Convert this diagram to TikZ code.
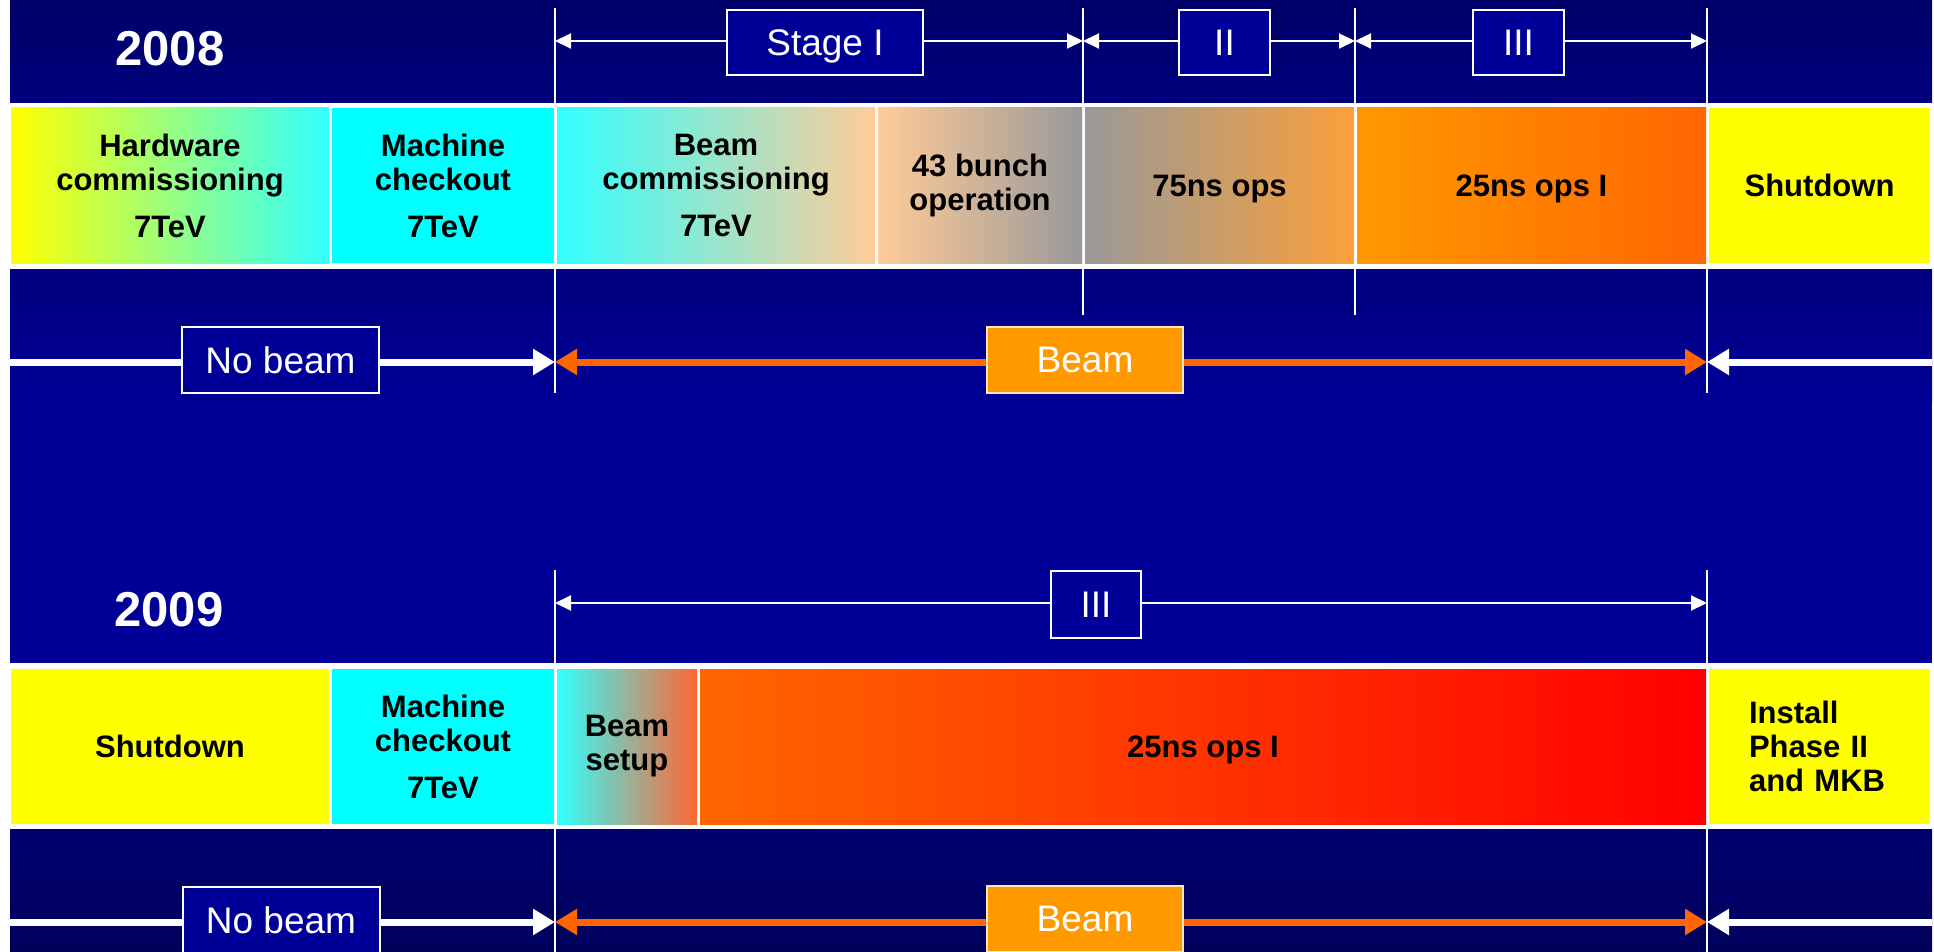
\documentclass[tikz,border=0pt]{standalone}
\usepackage{fontspec}
\setmainfont{Liberation Sans}
\usetikzlibrary{arrows.meta}
\definecolor{bgA}{RGB}{0,0,104}
\definecolor{bgB}{RGB}{0,0,126}
\definecolor{bgC}{RGB}{0,0,128}
\definecolor{bgD}{RGB}{0,0,150}
\definecolor{bgE}{RGB}{0,0,112}
\definecolor{bgF}{RGB}{0,0,92}
\definecolor{boxblue}{RGB}{0,0,153}
\definecolor{boxorange}{RGB}{255,153,0}
\definecolor{boxedge}{RGB}{255,228,190}
\definecolor{beamorange}{RGB}{255,102,0}
\definecolor{cyanA}{RGB}{50,255,255}
\definecolor{cyanB}{RGB}{0,255,255}
\definecolor{yel}{RGB}{255,255,0}
\definecolor{peach}{RGB}{255,204,153}
\definecolor{peachB}{RGB}{238,192,152}
\definecolor{grayA}{RGB}{153,153,153}
\definecolor{midA}{RGB}{205,150,112}
\definecolor{orA}{RGB}{250,160,58}
\definecolor{orB}{RGB}{255,153,0}
\definecolor{orC}{RGB}{255,102,0}
\definecolor{orD}{RGB}{255,84,0}
\definecolor{redA}{RGB}{255,0,0}
\definecolor{setupmid}{RGB}{172,196,186}
\definecolor{setupr}{RGB}{255,102,51}
\begin{document}
\begin{tikzpicture}[x=1pt,y=-1pt,
  cell/.style={inner sep=0pt, minimum height=155pt, font=\fontsize{31}{34}\selectfont\bfseries, text=black, align=center},
  one/.style={text depth=0pt},
  tag/.style={draw=white, line width=2pt, inner sep=0pt, minimum height=66pt, text depth=0pt, font=\fontsize{37}{40}\selectfont, text=white},
  yearlab/.style={font=\fontsize{49}{50}\selectfont\bfseries, text=white, text depth=0pt, inner sep=0pt},
  vline/.style={draw=white, line width=1.5pt},
  thinarr/.style={draw=white, line width=2pt, arrows={Triangle[length=16pt,width=15pt]-Triangle[length=16pt,width=15pt]}},
  thickw/.style={draw=white, line width=7pt, arrows={-Triangle[length=22pt,width=25pt]}},
  thicko/.style={draw=beamorange, line width=7pt, arrows={Triangle[length=22pt,width=25pt]-Triangle[length=22pt,width=25pt]}}
]
% canvas and background
\fill[white] (0,0) rectangle (1934,952);
\useasboundingbox (0,0) rectangle (1934,952);
\shade[top color=bgA, bottom color=bgB] (10,0) rectangle (1932,104);
\fill[white] (10,103) rectangle (1932,270);
\shade[top color=bgC, bottom color=bgD] (10,269) rectangle (1932,401);
\fill[bgD] (10,400) rectangle (1932,664);
\fill[white] (10,663) rectangle (1932,830);
\shade[top color=bgE, bottom color=bgF] (10,829) rectangle (1932,952);

% vertical guide lines
\coordinate (p1t) at (555,8);   \coordinate (p1b) at (555,393);
\coordinate (p2t) at (1083,8);  \coordinate (p2b) at (1083,315);
\coordinate (p3t) at (1355,8);  \coordinate (p3b) at (1355,315);
\coordinate (p4t) at (1707,8);  \coordinate (p4b) at (1707,393);
\coordinate (q1t) at (555,570); \coordinate (q1b) at (555,952);
\coordinate (q4t) at (1707,570);\coordinate (q4b) at (1707,952);
\draw[vline] (p1t) -- (p1b);
\draw[vline] (p2t) -- (p2b);
\draw[vline] (p3t) -- (p3b);
\draw[vline] (p4t) -- (p4b);
\draw[vline] (q1t) -- (q1b);
\draw[vline] (q4t) -- (q4b);

% years
\node[yearlab] (y2008) at (170,48.5) {2008};
\node[yearlab] (y2009) at (169,609) {2009};

% band 2008
\node[cell, left color=yel, right color=cyanA, minimum width=318pt] (hw) at (170,185.5) {Hardware\\commissioning\\[13pt]7TeV};
\node[cell, fill=cyanB, minimum width=222pt] (mc) at (443,185.5) {Machine\\checkout\\[13pt]7TeV};
\node[cell, left color=cyanA, right color=peach, minimum width=318pt] (bc) at (716,185.5) {Beam\\commissioning\\[13pt]7TeV};
\node[cell, left color=peach, middle color=peachB, right color=grayA, minimum width=204pt] (b43) at (980,185.5) {43 bunch\\operation};
\node[cell, one, left color=grayA, middle color=midA, right color=orA, minimum width=269pt] (o75) at (1219.5,185.5) {75ns ops};
\node[cell, one, left color=orB, right color=orC, minimum width=349pt] (o25) at (1531.5,185.5) {25ns ops I};
\node[cell, one, fill=yel, minimum width=221pt] (sd1) at (1819.5,185.5) {Shutdown};

% band 2009
\node[cell, one, fill=yel, minimum width=318pt] (sd2) at (170,746.5) {Shutdown};
\node[cell, fill=cyanB, minimum width=222pt] (mc2) at (443,746.5) {Machine\\checkout\\[13pt]7TeV};
\node[cell, left color=cyanA, middle color=setupmid, right color=setupr, minimum width=140pt] (bs) at (627,746.5) {Beam\\setup};
\node[cell, one, left color=orC, middle color=orD, right color=redA, minimum width=1006pt] (o25b) at (1203,746.5) {25ns ops I};
\node[cell, fill=yel, minimum width=221pt, text width=141pt, inner xsep=40pt, align=left] (inst) at (1819.5,746.5) {Install\\Phase II\\and MKB};

% stage arrows 2008
\coordinate (s0) at (555,41);
\coordinate (s1) at (1083,41);
\coordinate (s2) at (1355,41);
\coordinate (s3) at (1707,41);
\draw[thinarr] (s0) -- (s1);
\draw[thinarr] (s1) -- (s2);
\draw[thinarr] (s2) -- (s3);
\node[tag, fill=boxblue, minimum width=196pt, minimum height=65pt] (stI) at (825,42.5) {Stage I};
\node[tag, fill=boxblue, minimum width=91pt, minimum height=65pt] (stII) at (1224.5,43) {II};
\node[tag, fill=boxblue, minimum width=91pt, minimum height=65pt] (stIII) at (1518.5,43) {III};

% stage arrow 2009
\coordinate (t0) at (555,603);
\coordinate (t1) at (1707,603);
\draw[thinarr] (t0) -- (t1);
\node[tag, fill=boxblue, minimum width=90pt, minimum height=67pt] (stIIIb) at (1096,604.5) {III};

% beam arrows 2008
\coordinate (a0) at (10,362);
\coordinate (a1) at (555,362);
\coordinate (a2) at (1707,362);
\coordinate (a3) at (1932,362);
\draw[thickw] (a0) -- (a1);
\draw[thicko] (a1) -- (a2);
\draw[thickw] (a3) -- (a2);
\node[tag, fill=boxblue, minimum width=197pt] (nb1) at (280.5,360) {No beam};
\node[tag, fill=boxorange, draw=boxedge, minimum width=196pt] (bm1) at (1085,360) {Beam};

% beam arrows 2009
\coordinate (b0) at (10,922);
\coordinate (b1) at (555,922);
\coordinate (b2) at (1707,922);
\coordinate (b3) at (1932,922);
\draw[thickw] (b0) -- (b1);
\draw[thicko] (b1) -- (b2);
\draw[thickw] (b3) -- (b2);
\node[tag, fill=boxblue, minimum width=197pt] (nb2) at (281,920) {No beam};
\node[tag, fill=boxorange, draw=boxedge, minimum width=196pt] (bm2) at (1085,919) {Beam};
\end{tikzpicture}
\end{document}
